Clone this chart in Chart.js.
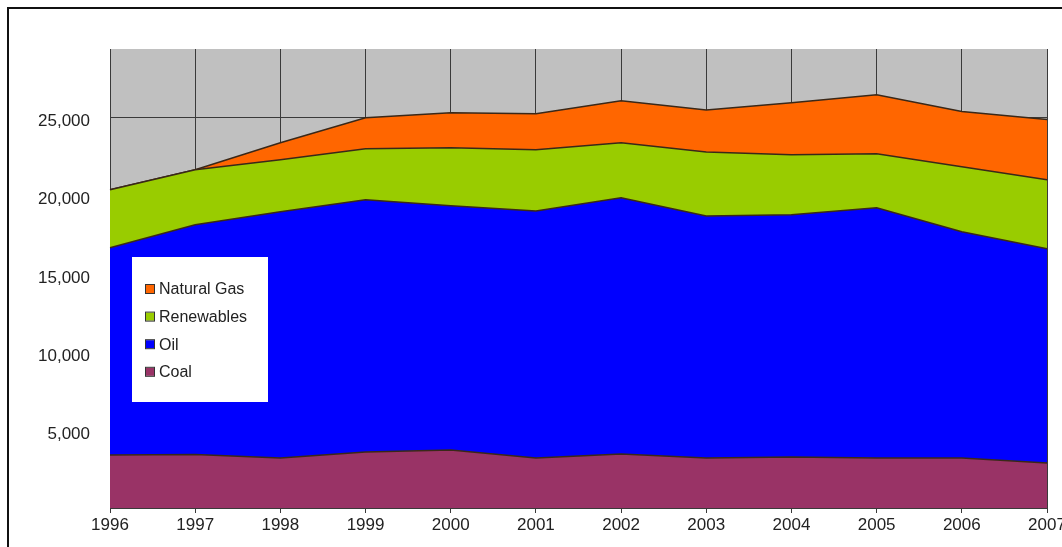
<!DOCTYPE html>
<html>
<head>
<meta charset="utf-8">
<script src="https://cdn.jsdelivr.net/npm/chart.js@4/dist/chart.umd.min.js"></script>
<style>
    html, body { margin: 0; padding: 0; background: #fff; overflow: hidden; }
    #frame {
        position: absolute; left: 7px; top: 7px;
        width: 1200px; height: 620px;
        border: 2px solid #111;
    }
    #wrap { position: absolute; left: 0; top: 0; width: 1100px; height: 547px; }
</style>
</head>
<body>
<div id="frame"></div>
<div id="wrap"><canvas id="energyChart"></canvas></div>
<script>
// Data
const years = ['1996', '1997', '1998', '1999', '2000', '2001', '2002', '2003', '2004', '2005', '2006', '2007'];
const coal = [3400, 3430, 3200, 3590, 3720, 3200, 3460, 3200, 3270, 3200, 3200, 2890];
const oil = [13270, 14710, 15770, 16150, 15640, 15830, 16410, 15510, 15510, 16030, 14490, 13720];
const renewables = [3720, 3530, 3330, 3270, 3720, 3910, 3530, 4100, 3850, 3460, 4170, 4420];
const naturalGas = [0, 0, 1090, 1990, 2240, 2310, 2690, 2690, 3330, 3780, 3530, 3850];
const yTicks = [5000, 10000, 15000, 20000, 25000];

const COLORS = {
    coal: '#993366',
    oil: '#0000ff',
    renewables: '#99cc00',
    gas: '#ff6600',
    edge: '#3a2818',
    plotBg: '#c0c0c0',
    grid: '#3a3a3a',
    text: '#222222'
};

const FONT = '"Liberation Sans", Arial, sans-serif';

// grey plot background, painted under the grid
const plotBackground = {
    id: 'plotBackground',
    beforeDraw(chart) {
        const a = chart.chartArea;
        const ctx = chart.ctx;
        ctx.save();
        ctx.fillStyle = COLORS.plotBg;
        ctx.fillRect(a.left, a.top, a.right - a.left, a.bottom - a.top);
        ctx.restore();
    }
};

// legend box sitting inside the plot, top series first
const floatingLegend = {
    id: 'floatingLegend',
    afterDraw(chart) {
        const ctx = chart.ctx;
        const box = { x: 132, y: 257, w: 136, h: 145 };
        ctx.save();
        ctx.fillStyle = '#ffffff';
        ctx.fillRect(box.x, box.y, box.w, box.h);
        const items = chart.data.datasets.slice().reverse();
        ctx.font = '16px ' + FONT;
        ctx.textBaseline = 'middle';
        items.forEach((ds, i) => {
            const cy = 289 + i * 27.6;
            ctx.fillStyle = ds.backgroundColor;
            ctx.fillRect(146, cy - 4, 8, 8);
            ctx.strokeStyle = '#333';
            ctx.lineWidth = 1;
            ctx.strokeRect(145.5, cy - 4.5, 9, 9);
            ctx.fillStyle = COLORS.text;
            ctx.fillText(ds.label, 159, cy + 1);
        });
        ctx.restore();
    }
};

function makeSet(label, data, color, fill) {
    return {
        label: label,
        data: data,
        backgroundColor: color,
        borderColor: COLORS.edge,
        borderWidth: 1.5,
        pointRadius: 0,
        tension: 0,
        fill: fill
    };
}

const ctx = document.getElementById('energyChart').getContext('2d');
const energyChart = new Chart(ctx, {
    type: 'line',
    data: {
        labels: years,
        datasets: [
            makeSet('Coal', coal, COLORS.coal, 'origin'),
            makeSet('Oil', oil, COLORS.oil, '-1'),
            makeSet('Renewables', renewables, COLORS.renewables, '-1'),
            makeSet('Natural Gas', naturalGas, COLORS.gas, '-1')
        ]
    },
    options: {
        responsive: true,
        maintainAspectRatio: false,
        animation: false,
        layout: { padding: { left: 0, top: 49, right: 53, bottom: 0 } },
        plugins: {
            legend: { display: false },
            tooltip: { enabled: false }
        },
        scales: {
            x: {
                offset: false,
                grid: {
                    color: COLORS.grid,
                    lineWidth: 1,
                    drawTicks: true,
                    tickLength: 5
                },
                border: { display: true, color: COLORS.grid, width: 1 },
                ticks: {
                    color: COLORS.text,
                    font: { family: FONT, size: 17 },
                    padding: 2,
                    maxRotation: 0,
                    autoSkip: false
                },
                afterFit(scale) { scale.height = 39; }
            },
            y: {
                stacked: true,
                min: 0,
                max: 29400,
                afterBuildTicks(scale) {
                    scale.ticks = [0].concat(yTicks).map(v => ({ value: v }));
                },
                grid: {
                    color: COLORS.grid,
                    lineWidth: 1,
                    drawTicks: false
                },
                border: { display: false },
                ticks: {
                    color: COLORS.text,
                    font: { family: FONT, size: 17 },
                    padding: 20,
                    labelOffset: 4,
                    callback: v => v === 0 ? '' : v.toLocaleString('en-US')
                },
                afterFit(scale) { scale.width = 110; }
            }
        }
    },
    plugins: [plotBackground, floatingLegend]
});
</script>
</body>
</html>
